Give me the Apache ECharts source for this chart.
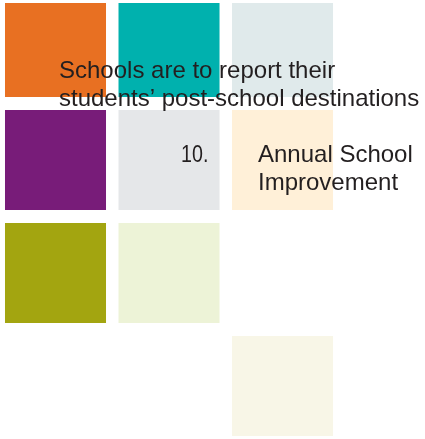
<!DOCTYPE html>
<html>
<head>
<meta charset="utf-8">
<script src="https://cdn.jsdelivr.net/npm/echarts@6/dist/echarts.min.js"></script>
<style>html,body{margin:0;padding:0;background:#fff}#c{width:425px;height:439px}</style>
</head>
<body>
<div id="c"></div>
<script>
const cellCols = [0, 1, 2, 0, 1, 2, 0, 1, 2];
const cellRows = [0, 0, 0, 1, 1, 1, 2, 2, 3];
const cellColors = ['#E87022', '#00B1AE', '#E0EAEB', '#781C79', '#E5E7E9', '#FFF0D8', '#A3A510', '#EDF3D7', '#F8F6E7'];
const headingLines = ['Schools are to report their', 'students\u2019 post-school destinations'];
const sectionNumber = '10.';
const sectionLines = ['Annual School', 'Improvement'];

const chart = echarts.init(document.getElementById('c'));
const data = cellCols.map((c, i) => ({ value: [c, cellRows[i]], itemStyle: { color: cellColors[i] } }));
const font = '"Liberation Sans", Arial, Helvetica, sans-serif';
chart.setOption({
  animation: false,
  grid: { left: 0, top: 3, right: 0, bottom: 0 },
  xAxis: { type: 'value', min: -0.544, max: 3.2, show: false },
  yAxis: { type: 'value', min: -0.447, max: 3.412, inverse: true, show: false },
  series: [{
    type: 'custom',
    clip: true,
    data: data,
    renderItem: function (params, api) {
      const p = api.coord([api.value(0), api.value(1)]);
      const s = api.size([1, 1]);
      const w = s[0] - 12.5, h = s[1] - 13;
      return {
        type: 'rect',
        shape: { x: p[0] - s[0] / 2, y: p[1] - s[1] / 2, width: w, height: h },
        style: { fill: api.visual('color') }
      };
    }
  }],
  graphic: [
    { type: 'text', left: 59, top: 57, z: 10,
      style: { text: headingLines.join('\n'), font: '24px ' + font, fill: '#231F20', lineHeight: 28 } },
    { type: 'text', x: 181, y: 141, scaleX: 0.82, z: 10,
      style: { text: sectionNumber, font: '24px ' + font, fill: '#231F20', lineHeight: 28 } },
    { type: 'text', left: 258, top: 141, z: 10,
      style: { text: sectionLines.join('\n'), font: '24px ' + font, fill: '#231F20', lineHeight: 28 } }
  ]
});
</script>
</body>
</html>
